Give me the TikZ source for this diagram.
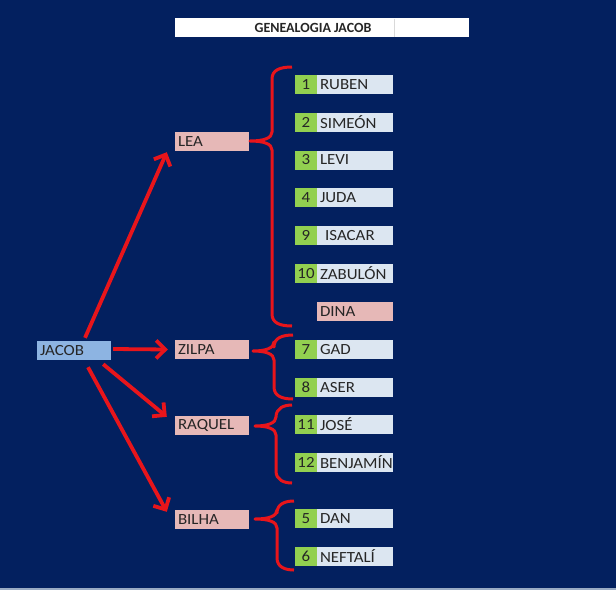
\documentclass[tikz,border=0pt]{standalone}
\usepackage{fontspec}
\setmainfont{Carlito}
\newfontfamily\cellfont[FakeStretch=1.09]{Carlito}
\usetikzlibrary{arrows.meta}
\definecolor{bg}{HTML}{03205F}
\definecolor{pinkbox}{HTML}{E6B8B7}
\definecolor{bluebox}{HTML}{8DB4E2}
\definecolor{namebox}{HTML}{DCE6F1}
\definecolor{numbox}{HTML}{92D050}
\definecolor{txt}{HTML}{262626}
\definecolor{redline}{HTML}{E8151B}
\definecolor{strip}{HTML}{9AABC4}
\definecolor{cellline}{HTML}{D9D9D9}
\newcommand\redbrace[6]{%
  \draw[bracestyle] (#1,#2) .. controls ({#3+8},#2) and (#3,{#2+3}) .. (#3,{#2+12})
    -- (#3,{#5-9}) .. controls (#3,{#5-3}) and ({#3-8},#5) .. (#4,#5)
    .. controls ({#3-8},#5) and (#3,{#5+3}) .. (#3,{#5+9})
    -- (#3,{#6-12}) .. controls (#3,{#6-3}) and ({#3+8},#6) .. (#1,#6);}
\begin{document}
\begin{tikzpicture}[x=1pt,y=-1pt,
  cell/.style={draw=none,minimum height=19pt,inner ysep=0pt,inner xsep=3pt,
    font=\cellfont\fontsize{15.5}{17}\selectfont,text=txt,anchor=center},
  parentbox/.style={cell,fill=pinkbox,text width=68pt,align=left},
  rootbox/.style={cell,fill=bluebox,text width=68pt,align=left},
  childbox/.style={cell,fill=namebox,text width=70pt,align=left},
  dinabox/.style={cell,fill=pinkbox,text width=70pt,align=left},
  numcell/.style={cell,fill=numbox,minimum width=22pt,inner xsep=0pt},
  arrowline/.style={draw=redline,line width=3.8pt,-{Straight Barb[length=9pt,width=18pt,line width=3.8pt]}},
  bracestyle/.style={draw=redline,line width=3pt,line join=round}]
\useasboundingbox (0,0) rectangle (616,590);
\fill[bg] (0,0) rectangle (616,590);
\fill[strip] (0,587.5) rectangle (616,590);
% title
\node[fill=white,minimum width=294pt,minimum height=19pt,inner sep=0pt] (title) at (322,27.5) {};
\draw[cellline] (394,18.5) -- (394,36.5);
\node[font=\fontsize{14}{16}\selectfont\bfseries,text=txt] (titletext) at (313,28) {GENEALOGIA JACOB};
% root and parents
\node[rootbox] (jacob) at (74,350.5) {JACOB};
\node[parentbox] (lea) at (212,141.5) {LEA};
\node[parentbox] (zilpa) at (212,349.5) {ZILPA};
\node[parentbox] (raquel) at (212,425.5) {RAQUEL};
\node[parentbox] (bilha) at (212,519.5) {BILHA};
% children
\foreach \yy/\nn/\name/\id in {84.5/1/RUBEN/ruben,122.5/2/SIMEÓN/simeon,160/3/LEVI/levi,197.5/4/JUDA/juda,235.5/9/\ ISACAR/isacar,273.5/10/ZABULÓN/zabulon,349.5/7/GAD/gad,387.5/8/ASER/aser,424.5/11/JOSÉ/jose,462.5/12/BENJAMÍN/benjamin,518.5/5/DAN/dan,556.5/6/NEFTALÍ/neftali}{
  \node[numcell] (n-\id) at (306,\yy) {\nn};
  \node[childbox] (c-\id) at (355,\yy) {\name};
}
\node[dinabox] (c-dina) at (355,311.5) {DINA};
% braces
\redbrace{292}{67}{272}{250}{141}{326}
\redbrace{293}{335}{274}{253}{351}{399}
\redbrace{292}{405}{276}{255}{426}{483}
\redbrace{294}{501}{277}{255}{519}{570}
% arrows
\draw[arrowline] ([shift={(11,-3)}]jacob.north) -- ([shift={(-8,1)}]lea.south west);
\draw[arrowline] ([shift={(2,-1.5)}]jacob.east) -- ([shift={(-7,0)}]zilpa.west);
\draw[arrowline] ([shift={(-8,4)}]jacob.south east) -- ([shift={(-8,1)}]raquel.north west);
\draw[arrowline] ([shift={(14,7)}]jacob.south) -- ([shift={(-8,2)}]bilha.north west);
\end{tikzpicture}
\end{document}
